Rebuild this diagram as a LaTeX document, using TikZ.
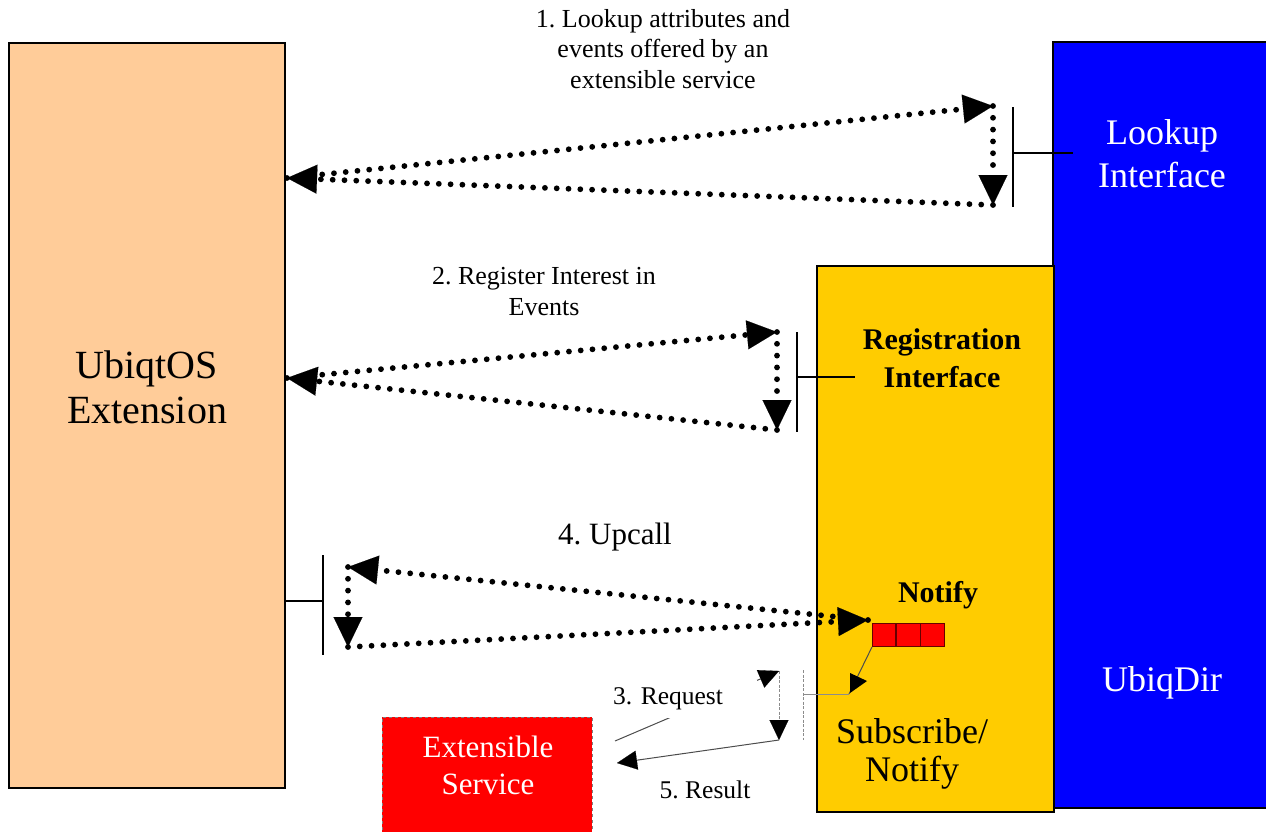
\documentclass[tikz,border=0pt]{standalone}
\usepackage{fontspec}
\setmainfont{Liberation Serif}
\usetikzlibrary{arrows.meta}
\definecolor{peach}{HTML}{FFCC99}
\definecolor{gold}{HTML}{FFCC00}
\definecolor{dirblue}{HTML}{0000FF}
\definecolor{qred}{HTML}{FF0000}
\frenchspacing
\begin{document}
\begin{tikzpicture}[x=1pt,y=-1pt,
  panel/.style={draw=black, line width=2pt, inner sep=0pt, anchor=north west},
  bigtip/.style={-{Triangle[length=30pt,width=29pt,line width=0.1pt]}},
  dotline/.style={line width=5.8pt, dash pattern=on 0pt off 11.8pt, line cap=round, bigtip},
  thinline/.style={draw=black!70, line width=1pt},
  thintip/.style={thinline, -{Triangle[length=20pt,width=19pt,line width=0.1pt,color=black]}},
  port/.style={line width=2pt},
  lbl/.style={inner sep=0pt, align=center},
  qcell/.style={draw=black!60!red, line width=0.6pt, fill=qred, minimum size=23.5pt, inner sep=0pt}
]
\useasboundingbox (0,0) rectangle (1266,831);
\clip (0,0) rectangle (1266,831);

% main blocks
\node[panel, fill=dirblue, minimum width=320pt, minimum height=766pt] (dir) at (1052,41) {};
\node[panel, fill=gold, minimum width=237pt, minimum height=546pt] (sub) at (816,265) {};
\node[panel, fill=peach, minimum width=276pt, minimum height=745pt] (ext) at (8,42) {};
\node[panel, draw=black!50, line width=0.6pt, dashed, fill=qred, minimum width=210pt, minimum height=130pt] (svc) at (382,717) {};

% block captions
\node[lbl, font=\fontsize{40}{45}\selectfont] (extname) at (147,387) {UbiqtOS\\Extension};
\node[lbl, text=white, font=\fontsize{36}{43}\selectfont] (luname) at (1162,154) {Lookup\\Interface};
\node[lbl, text=white, font=\fontsize{36}{43}\selectfont] (dirname) at (1162,683) {UbiqDir};
\node[lbl, font=\bfseries\fontsize{30}{38}\selectfont] (regname) at (942,358) {Registration\\Interface};
\node[lbl, font=\bfseries\fontsize{30}{36}\selectfont] (notname) at (938,595) {Notify};
\node[lbl, font=\fontsize{36}{38}\selectfont] (subname) at (912,754) {Subscribe/\\Notify};
\node[lbl, text=white, font=\fontsize{31}{37}\selectfont] (svcname) at (488,765) {Extensible\\Service};

% notification queue
\node[qcell] (q1) at (884,635) {};
\node[qcell, anchor=west] (q2) at (q1.east) {};
\node[qcell, anchor=west] (q3) at (q2.east) {};

% interface ports
\coordinate (luT) at (1013,107); \coordinate (luB2) at (1013,207);
\coordinate (luM) at (1013,153); \coordinate (luIn) at (1073,153);
\draw[port] (luT) -- (luB2); \draw[port] (luM) -- (luIn);
\coordinate (rgT) at (797,332); \coordinate (rgB2) at (797,432);
\coordinate (rgM) at (797,377); \coordinate (rgIn) at (855,377);
\draw[port] (rgT) -- (rgB2); \draw[port] (rgM) -- (rgIn);
\coordinate (upT) at (323,555); \coordinate (upB2) at (323,655);
\coordinate (upM) at (323,601); \coordinate (upIn) at (285,601);
\draw[port] (upT) -- (upB2); \draw[port] (upM) -- (upIn);

% 1. lookup
\coordinate (luA) at (993,106); \coordinate (luB) at (993,205); \coordinate (luL) at (287,178);
\draw[dotline] (luL) -- (luA);
\draw[dotline] (luA) -- (luB);
\draw[dotline] (luB) -- (luL);
% 2. register
\coordinate (rgA) at (777,332); \coordinate (rgB) at (777,430); \coordinate (rgL) at (287,378);
\draw[dotline] (rgL) -- (rgA);
\draw[dotline] (rgA) -- (rgB);
\draw[dotline] (rgB) -- (rgL);
% 4. upcall
\coordinate (upR) at (868,620); \coordinate (upA) at (348,567); \coordinate (upB) at (348,647);
\draw[dotline] (upR) -- (upA);
\draw[dotline] (upA) -- (upB);
\draw[dotline] (upB) -- (upR);

% subscribe/notify port
\coordinate (snT) at (803,670); \coordinate (snB) at (803,740);
\coordinate (snM) at (803,694); \coordinate (snK) at (849,694);
\draw[draw=black!45, line width=0.8pt, dash pattern=on 3pt off 1.5pt] (snT) -- (snB);
\draw[draw=black!45, line width=0.8pt] (snM) -- (snK);
\draw[thinline] (snK) -- (q1.south west);
\fill (850,673) -- (867,681) -- (850,693) -- cycle;

% 3. request / 5. result
\coordinate (rqS) at (615,741); \coordinate (rqA) at (779,671);
\coordinate (rqB) at (779,740); \coordinate (rsE) at (617,763);
\draw[thintip] (rqS) -- (rqA);
\draw[thintip, draw=black!45, dash pattern=on 3pt off 1.5pt] (rqA) -- (rqB);
\draw[thintip] (rqB) -- (rsE);

% step labels
\node[lbl, font=\fontsize{26}{30.5}\selectfont] (l1) at (663,49) {1. Lookup attributes and\\events offered by an\\extensible service};
\node[lbl, font=\fontsize{26}{31}\selectfont] (l2) at (544,292) {2. Register Interest in\\Events};
\node[lbl, font=\fontsize{31}{36}\selectfont] (l4) at (615,537) {4. Upcall};
\node[anchor=west, fill=white, inner sep=0pt, minimum height=38pt, text width=144pt, align=left, font=\fontsize{25.5}{30}\selectfont] (l3) at (613,699) {3. Request};
\node[lbl, font=\fontsize{25.5}{30}\selectfont] (l5) at (705,790) {5. Result};
\end{tikzpicture}
\end{document}
